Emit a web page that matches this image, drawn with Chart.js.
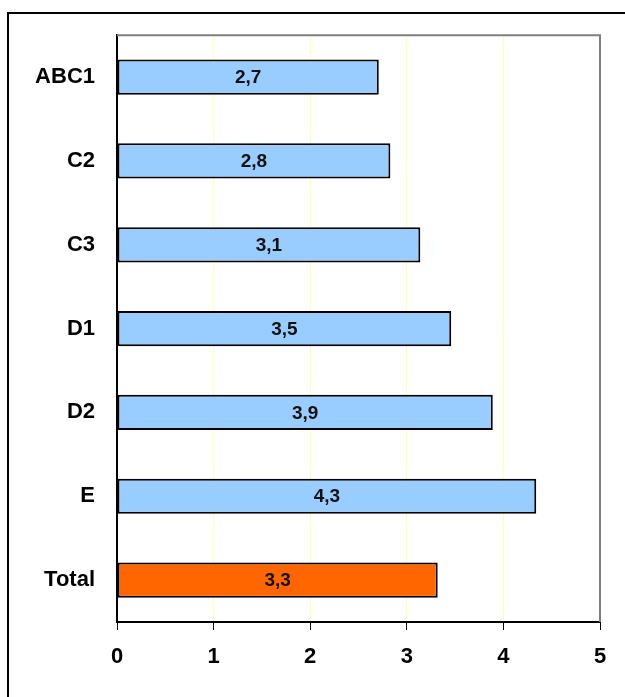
<!DOCTYPE html>
<html>
<head>
<meta charset="utf-8">
<script src="https://cdn.jsdelivr.net/npm/chart.js@4"></script>
<style>
  html, body { margin: 0; padding: 0; background: #fff; }
  #wrap { width: 625px; height: 697px; position: relative; }
</style>
</head>
<body>
<div id="wrap"><canvas id="chart" width="625" height="697"></canvas></div>
<script>
// Categories and values
const categories = ['ABC1', 'C2', 'C3', 'D1', 'D2', 'E', 'Total'];
const values = [2.71, 2.83, 3.14, 3.46, 3.89, 4.34, 3.32];
const barColors = ['#99CCFF', '#99CCFF', '#99CCFF', '#99CCFF', '#99CCFF', '#99CCFF', '#FF6600'];
const xTicks = [0, 1, 2, 3, 4, 5];

// Outer frame, plot border and value labels
const framePlugin = {
    id: 'frame',
    beforeDraw(chart) {
        const c = chart.ctx;
        c.save();
        c.fillStyle = '#fff';
        c.fillRect(0, 0, chart.width, chart.height);
        c.strokeStyle = '#000';
        c.lineWidth = 2;
        c.beginPath();
        c.moveTo(8, chart.height + 5);
        c.lineTo(8, 13);
        c.lineTo(chart.width + 5, 13);
        c.stroke();
        c.restore();
    },
    afterDatasetsDraw(chart) {
        const c = chart.ctx;
        const a = chart.chartArea;
        c.save();
        // gray top and right border of plot area
        c.strokeStyle = '#808080';
        c.lineWidth = 2;
        c.beginPath();
        c.moveTo(a.left, a.top);
        c.lineTo(a.right, a.top);
        c.lineTo(a.right, a.bottom);
        c.stroke();
        // value labels centred in bars
        c.fillStyle = '#111';
        c.font = 'bold 19px "Liberation Sans", Arial, sans-serif';
        c.textAlign = 'center';
        c.textBaseline = 'middle';
        chart.getDatasetMeta(0).data.forEach((bar, i) => {
            const txt = values[i].toFixed(1).replace('.', ',');
            c.fillText(txt, (bar.base + bar.x) / 2, bar.y + 1);
        });
        c.restore();
    }
};

const ctx = document.getElementById('chart').getContext('2d');
const chart = new Chart(ctx, {
    type: 'bar',
    data: {
        labels: categories,
        datasets: [{
            data: values,
            backgroundColor: barColors,
            borderColor: '#000',
            borderWidth: 2,
            borderSkipped: false,
            categoryPercentage: 1,
            barPercentage: 0.42
        }]
    },
    options: {
        indexAxis: 'y',
        responsive: false,
        animation: false,
        layout: { padding: { top: 33, right: 25, left: 0, bottom: 0 } },
        plugins: {
            legend: { display: false },
            tooltip: { enabled: false }
        },
        scales: {
            x: {
                min: 0,
                max: 5,
                afterBuildTicks(axis) { axis.ticks = xTicks.map(v => ({ value: v })); },
                afterFit(axis) { axis.height = 75; },
                grid: {
                    color: c => (c.tick && c.tick.value > 0 && c.tick.value < 5) ? '#FFFFB0' : 'rgba(0,0,0,0)',
                    tickColor: '#000',
                    tickLength: 8,
                    lineWidth: 1
                },
                border: { display: true, color: '#000', width: 2 },
                ticks: {
                    color: '#000',
                    padding: 14,
                    font: { family: '"Liberation Sans", Arial, sans-serif', size: 22, weight: 'bold' }
                }
            },
            y: {
                afterFit(axis) { axis.width = 117; },
                grid: { display: false, drawTicks: false },
                border: { display: true, color: '#000', width: 2 },
                ticks: {
                    color: '#000',
                    padding: 22,
                    font: { family: '"Liberation Sans", Arial, sans-serif', size: 22, weight: 'bold' }
                }
            }
        }
    },
    plugins: [framePlugin]
});
</script>
</body>
</html>
